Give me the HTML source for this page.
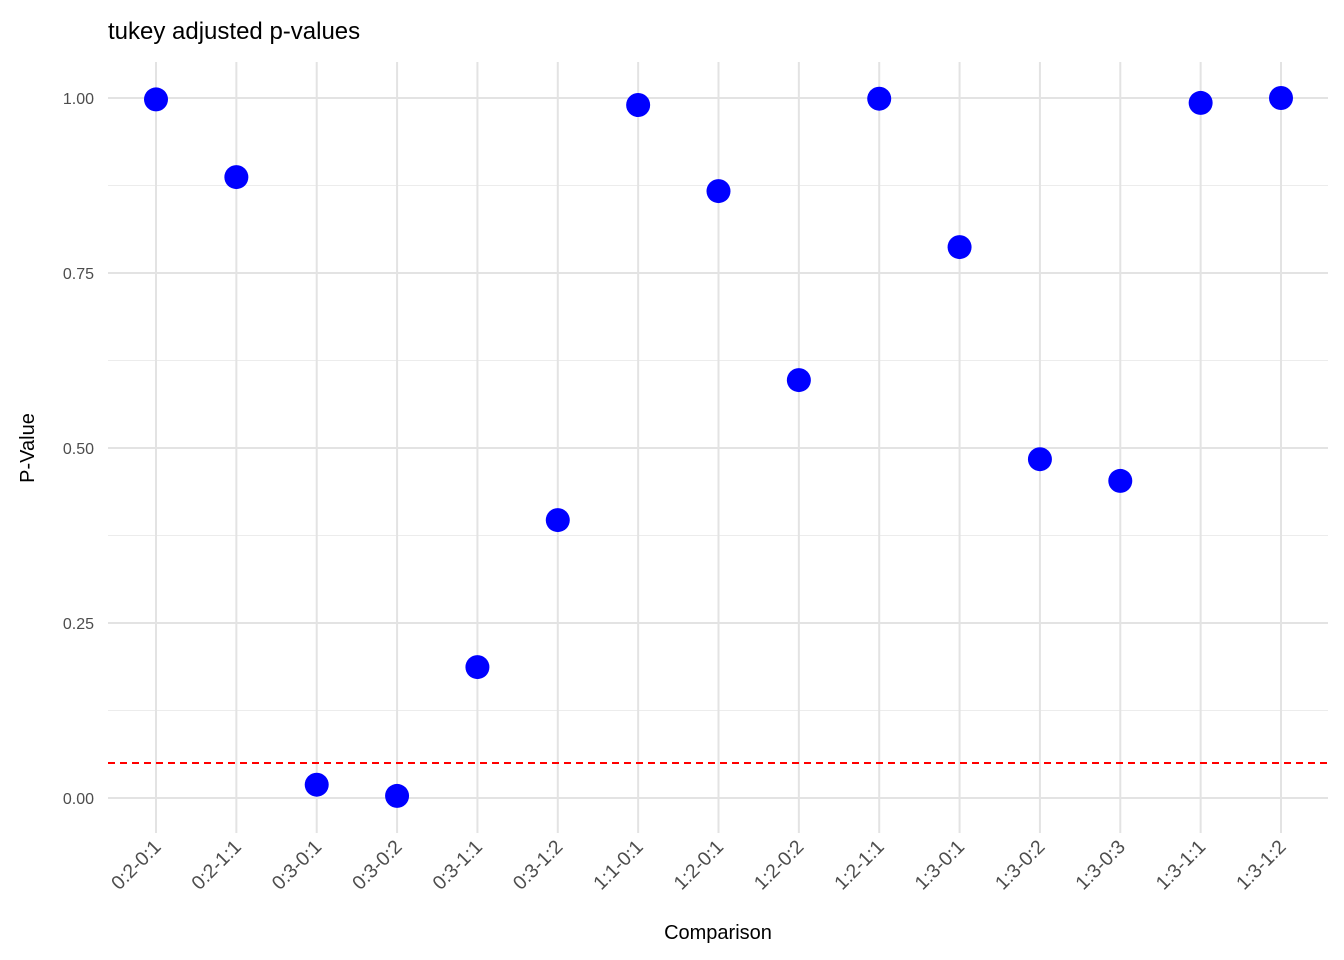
<!DOCTYPE html>
<html><head><meta charset="utf-8"><style>
html,body{margin:0;padding:0;background:#fff;}
svg{display:block;font-family:"Liberation Sans",Arial,sans-serif;}
</style></head><body>
<svg id="chart" width="1344" height="960">
<text x="108" y="39" font-size="24" fill="#000">tukey adjusted p-values</text>
<g id="grid"></g><g id="marks"></g><g id="axes"></g>
<text x="718" y="939" font-size="20" text-anchor="middle" fill="#000">Comparison</text>
<text transform="translate(34,448) rotate(-90)" font-size="20" text-anchor="middle" fill="#000">P-Value</text>
</svg>
<script>
const categories=["0:2-0:1","0:2-1:1","0:3-0:1","0:3-0:2","0:3-1:1","0:3-1:2","1:1-0:1","1:2-0:1","1:2-0:2","1:2-1:1","1:3-0:1","1:3-0:2","1:3-0:3","1:3-1:1","1:3-1:2"];
const pValues=[0.998,0.887,0.019,0.003,0.187,0.397,0.990,0.867,0.597,0.999,0.787,0.484,0.453,0.993,1.0];
const yTicks=[0,0.25,0.5,0.75,1.0];
const yTickLabels=["0.00","0.25","0.50","0.75","1.00"];
const yMinor=[0.125,0.375,0.625,0.875];
const threshold=0.05;
const NS="http://www.w3.org/2000/svg";
const X=i=>156+i*(1281-156)/(categories.length-1);
const Y=v=>798-v*700;
const L=108,R=1328,T=62,B=833;
function mk(tag,attrs,parent,txt){const e=document.createElementNS(NS,tag);for(const k in attrs)e.setAttribute(k,attrs[k]);if(txt!==undefined)e.textContent=txt;document.getElementById(parent).appendChild(e);return e;}
yMinor.forEach(v=>{const e=mk('line',{x1:L,x2:R,y1:Y(v),y2:Y(v),stroke:'#ececec','stroke-width':1},'grid');

});
yTicks.forEach((v,i)=>{const e=mk('line',{x1:L,x2:R,y1:Y(v),y2:Y(v),stroke:'#e3e3e3','stroke-width':2},'grid');


const t=mk('text',{x:94,y:Y(v)+6,'font-size':16,'text-anchor':'end',fill:'#4d4d4d'},'axes',yTickLabels[i]);

});
categories.forEach((c,i)=>{const e=mk('line',{x1:X(i),x2:X(i),y1:T,y2:B,stroke:'#e3e3e3','stroke-width':2},'grid');


const t=mk('text',{transform:`translate(${X(i)+6},${848}) rotate(-45)`,'font-size':19.5,'text-anchor':'end',fill:'#4d4d4d'},'axes',c);

});
const th=mk('line',{x1:L,x2:R,y1:Y(threshold),y2:Y(threshold),stroke:'#ff0000','stroke-width':2,'stroke-dasharray':'7,5'},'marks');


pValues.forEach((v,i)=>{const p=mk('circle',{cx:X(i),cy:Y(v),r:12,fill:'#0000ff'},'marks');

});
</script>
</body></html>
